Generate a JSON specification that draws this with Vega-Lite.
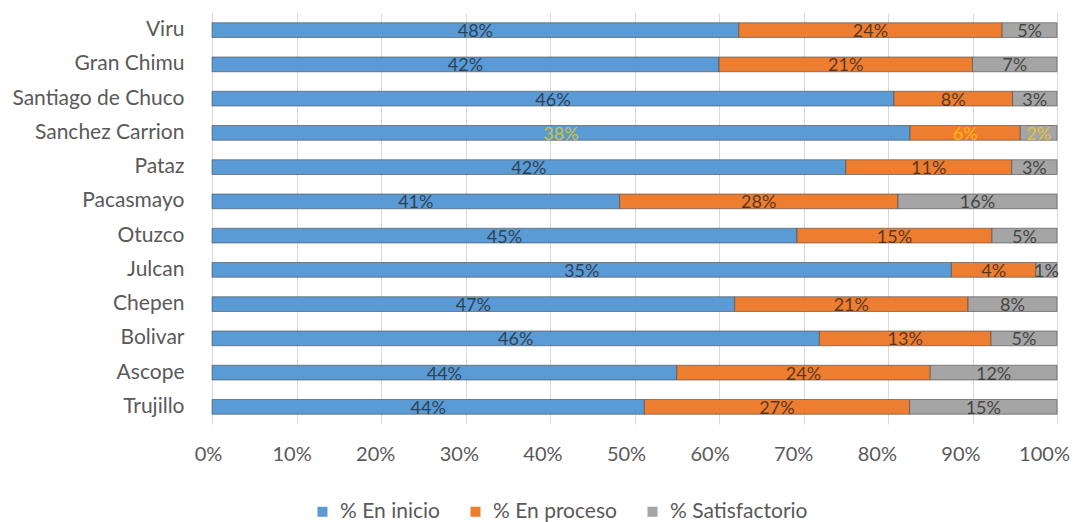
{
  "$schema": "https://vega.github.io/schema/vega-lite/v6.json",
  "width": 845,
  "height": 411,
  "autosize": {"type": "none"},
  "padding": {"left": 212, "top": 13, "right": 19, "bottom": 98},
  "background": "white",
  "config": {
    "view": {"stroke": null},
    "font": "Lato",
    "axis": {"labelFont": "Lato", "labelColor": "#595959"},
    "legend": {"labelFont": "Lato", "padding": 0}
  },
  "data": {
    "values": [
      {"provincia": "Viru", "serie": "% En inicio", "pct": 0.48},
      {"provincia": "Viru", "serie": "% En proceso", "pct": 0.24},
      {"provincia": "Viru", "serie": "% Satisfactorio", "pct": 0.05},
      {"provincia": "Gran Chimu", "serie": "% En inicio", "pct": 0.42},
      {"provincia": "Gran Chimu", "serie": "% En proceso", "pct": 0.21},
      {"provincia": "Gran Chimu", "serie": "% Satisfactorio", "pct": 0.07},
      {"provincia": "Santiago de Chuco", "serie": "% En inicio", "pct": 0.46},
      {"provincia": "Santiago de Chuco", "serie": "% En proceso", "pct": 0.08},
      {"provincia": "Santiago de Chuco", "serie": "% Satisfactorio", "pct": 0.03},
      {"provincia": "Sanchez Carrion", "serie": "% En inicio", "pct": 0.38},
      {"provincia": "Sanchez Carrion", "serie": "% En proceso", "pct": 0.06},
      {"provincia": "Sanchez Carrion", "serie": "% Satisfactorio", "pct": 0.02},
      {"provincia": "Pataz", "serie": "% En inicio", "pct": 0.42},
      {"provincia": "Pataz", "serie": "% En proceso", "pct": 0.11},
      {"provincia": "Pataz", "serie": "% Satisfactorio", "pct": 0.03},
      {"provincia": "Pacasmayo", "serie": "% En inicio", "pct": 0.41},
      {"provincia": "Pacasmayo", "serie": "% En proceso", "pct": 0.28},
      {"provincia": "Pacasmayo", "serie": "% Satisfactorio", "pct": 0.16},
      {"provincia": "Otuzco", "serie": "% En inicio", "pct": 0.45},
      {"provincia": "Otuzco", "serie": "% En proceso", "pct": 0.15},
      {"provincia": "Otuzco", "serie": "% Satisfactorio", "pct": 0.05},
      {"provincia": "Julcan", "serie": "% En inicio", "pct": 0.35},
      {"provincia": "Julcan", "serie": "% En proceso", "pct": 0.04},
      {"provincia": "Julcan", "serie": "% Satisfactorio", "pct": 0.01},
      {"provincia": "Chepen", "serie": "% En inicio", "pct": 0.47},
      {"provincia": "Chepen", "serie": "% En proceso", "pct": 0.21},
      {"provincia": "Chepen", "serie": "% Satisfactorio", "pct": 0.08},
      {"provincia": "Bolivar", "serie": "% En inicio", "pct": 0.46},
      {"provincia": "Bolivar", "serie": "% En proceso", "pct": 0.13},
      {"provincia": "Bolivar", "serie": "% Satisfactorio", "pct": 0.05},
      {"provincia": "Ascope", "serie": "% En inicio", "pct": 0.44},
      {"provincia": "Ascope", "serie": "% En proceso", "pct": 0.24},
      {"provincia": "Ascope", "serie": "% Satisfactorio", "pct": 0.12},
      {"provincia": "Trujillo", "serie": "% En inicio", "pct": 0.44},
      {"provincia": "Trujillo", "serie": "% En proceso", "pct": 0.27},
      {"provincia": "Trujillo", "serie": "% Satisfactorio", "pct": 0.15}
    ]
  },
  "transform": [
    {"stack": "pct", "groupby": ["provincia"], "sort": [{"field": "serie", "order": "ascending"}], "offset": "normalize", "as": ["v0", "v1"]},
    {"calculate": "(datum.v0 + datum.v1) / 2", "as": "vm"}
  ],
  "encoding": {
    "y": {
      "field": "provincia",
      "type": "nominal",
      "sort": ["Viru", "Gran Chimu", "Santiago de Chuco", "Sanchez Carrion", "Pataz", "Pacasmayo", "Otuzco", "Julcan", "Chepen", "Bolivar", "Ascope", "Trujillo"],
      "scale": {"paddingInner": 0.57, "paddingOuter": 0.285},
      "axis": {"title": null, "ticks": false, "domain": false, "labelFontSize": 21, "labelPadding": 28, "grid": false}
    }
  },
  "layer": [
    {
      "mark": {"type": "bar", "stroke": "#4a4a4a", "strokeWidth": 1, "strokeOpacity": 0.6},
      "encoding": {
        "x": {
          "field": "v0",
          "type": "quantitative",
          "scale": {"domain": [0, 1], "nice": false},
          "axis": {"title": null, "format": ".0%", "values": [0, 0.1, 0.2, 0.3, 0.4, 0.5, 0.6, 0.7, 0.8, 0.9, 1], "domain": false, "ticks": false, "labelFontSize": 20, "labelPadding": 20, "labelOffset": {"expr": "-4 - 9 * datum.value"}, "gridColor": "#d9d9d9", "labelFlush": false}
        },
        "x2": {"field": "v1"},
        "color": {
          "field": "serie",
          "type": "nominal",
          "scale": {"domain": ["% En inicio", "% En proceso", "% Satisfactorio"], "range": ["#5B9BD5", "#ED7D31", "#A5A5A5"]},
          "legend": {"title": null, "orient": "none", "legendX": 100, "legendY": 488, "direction": "horizontal", "symbolType": "square", "symbolSize": 100, "symbolStrokeWidth": 0, "labelFontSize": 21, "labelColor": "#595959", "columnPadding": 25, "labelOffset": 7}
        }
      }
    },
    {
      "mark": {"type": "text", "fontSize": 18, "baseline": "middle", "dy": 2, "opacity": 0.7},
      "encoding": {
        "x": {"field": "vm", "type": "quantitative"},
        "text": {"field": "pct", "type": "quantitative", "format": ".0%"},
        "color": {"condition": {"test": "datum.provincia === 'Sanchez Carrion'", "value": "#FFD000"}, "value": "#1a1a1a"}
      }
    }
  ]
}
